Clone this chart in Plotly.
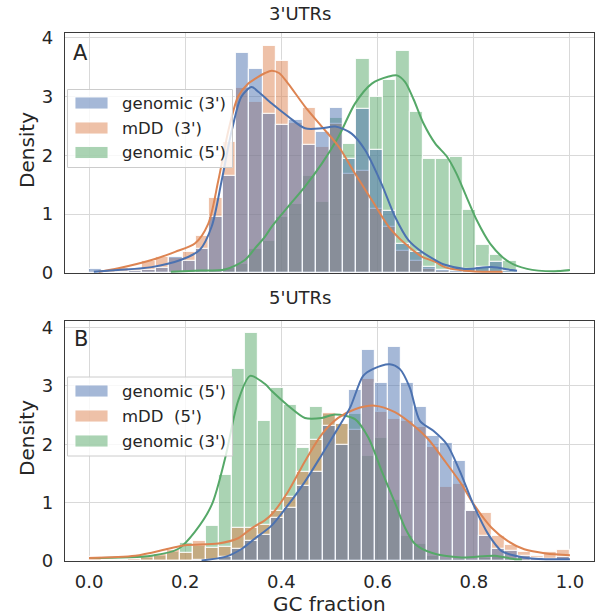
import numpy as np
import plotly.graph_objects as go
from plotly.subplots import make_subplots

# ---------------- data ----------------
# Panel A (3'UTRs): 36 equal bins over [0, 1]
A_NBINS = 36
A_GENOMIC3 = [0.07, 0.0, 0.02, 0.03, 0.05, 0.08, 0.27, 0.21, 0.41, 0.95, 1.65, 3.74,
              3.46, 2.71, 2.51, 2.60, 2.17, 2.40, 2.80, 1.93, 2.78, 2.09, 1.05, 0.50,
              0.35, 0.10, 0.05, 0.04, 0.06, 0.10, 0.18, 0.04, 0.02, 0.0, 0.0, 0.0]
A_MDD3 = [0.02, 0.03, 0.085, 0.06, 0.21, 0.27, 0.25, 0.36, 0.63, 1.27, 2.23, 3.14,
          2.90, 3.86, 3.60, 2.55, 2.80, 2.15, 2.53, 1.69, 1.73, 1.08, 0.78, 0.38,
          0.20, 0.06, 0.03, 0.02, 0.02, 0.01, 0.01, 0.0, 0.0, 0.0, 0.0, 0.0]
A_GENOMIC5 = [0.0, 0.0, 0.0, 0.0, 0.0, 0.0, 0.01, 0.02, 0.02, 0.04, 0.08, 0.16,
              0.40, 0.55, 0.95, 1.18, 1.65, 1.20, 2.63, 2.20, 3.63, 3.00, 3.28, 3.78,
              2.74, 1.93, 1.93, 1.97, 1.07, 0.48, 0.30, 0.21, 0.0, 0.0, 0.0, 0.05]

# Panel B (5'UTRs): 37 equal bins over [0, 1]
B_NBINS = 37
B_GENOMIC5 = [0.0, 0.0, 0.0, 0.0, 0.0, 0.0, 0.0, 0.0, 0.01, 0.02, 0.07, 0.20,
              0.34, 0.45, 0.74, 0.90, 1.28, 1.52, 2.31, 1.98, 2.92, 3.61, 3.05, 3.67,
              3.05, 2.63, 2.14, 2.02, 1.72, 0.85, 0.43, 0.20, 0.17, 0.09, 0.05, 0.03, 0.07]
B_MDD5 = [0.075, 0.02, 0.02, 0.04, 0.08, 0.12, 0.18, 0.14, 0.34, 0.22, 0.24, 0.57,
          0.57, 0.61, 0.85, 1.10, 1.53, 2.08, 2.54, 2.35, 2.25, 3.11, 2.56, 2.43,
          2.40, 2.29, 1.96, 1.27, 1.32, 0.85, 0.82, 0.42, 0.28, 0.15, 0.09, 0.15, 0.18]
B_GENOMIC3 = [0.02, 0.0, 0.02, 0.02, 0.05, 0.08, 0.15, 0.30, 0.25, 0.60, 1.48, 3.29,
              3.90, 2.40, 2.96, 2.67, 1.94, 2.63, 2.51, 2.35, 2.52, 1.79, 2.10, 1.05,
              0.43, 0.29, 0.09, 0.04, 0.03, 0.02, 0.05, 0.08, 0.03, 0.02, 0.0, 0.0, 0.0]

# KDE curves
A_KDE_G3_X = [0.01, 0.06, 0.13, 0.19, 0.23, 0.255, 0.276, 0.297, 0.317, 0.338, 0.352, 0.38,
              0.414, 0.449, 0.484, 0.512, 0.546, 0.574, 0.608, 0.636, 0.664, 0.692, 0.72,
              0.74, 0.782, 0.837, 0.879, 0.89]
A_KDE_G3_Y = [0.02, 0.05, 0.10, 0.22, 0.39, 0.79, 1.58, 2.43, 3.00, 3.16, 3.08, 2.88,
              2.66, 2.46, 2.46, 2.49, 2.37, 2.09, 1.52, 0.96, 0.56, 0.36, 0.22,
              0.14, 0.07, 0.10, 0.05, 0.04]
A_KDE_M3_X = [0.02, 0.061, 0.13, 0.179, 0.22, 0.248, 0.269, 0.29, 0.31, 0.331, 0.345, 0.366,
              0.38, 0.395, 0.414, 0.449, 0.484, 0.519, 0.553, 0.588, 0.623, 0.657, 0.692,
              0.72, 0.74, 0.782, 0.837, 0.86]
A_KDE_M3_Y = [0.02, 0.08, 0.22, 0.36, 0.50, 0.84, 1.58, 2.43, 3.00, 3.22, 3.30, 3.40,
              3.44, 3.40, 3.22, 2.83, 2.49, 2.15, 1.69, 1.24, 0.79, 0.50, 0.28,
              0.19, 0.10, 0.04, 0.02, 0.02]
A_KDE_G5_X = [0.17, 0.22, 0.283, 0.324, 0.345, 0.366, 0.38, 0.414, 0.449, 0.484, 0.519,
              0.553, 0.588, 0.623, 0.64, 0.657, 0.675, 0.695, 0.72, 0.744, 0.764, 0.785,
              0.806, 0.834, 0.869, 0.911, 0.966, 1.0]
A_KDE_G5_Y = [0.02, 0.04, 0.06, 0.22, 0.42, 0.62, 0.79, 1.13, 1.47, 1.86, 2.32,
              2.88, 3.22, 3.34, 3.36, 3.25, 2.95, 2.55, 2.20, 1.98, 1.69, 1.29,
              0.90, 0.50, 0.21, 0.07, 0.03, 0.05]

B_KDE_G5_X = [0.234, 0.283, 0.318, 0.345, 0.38, 0.414, 0.449, 0.484, 0.518, 0.543, 0.57,
              0.591, 0.625, 0.646, 0.667, 0.688, 0.716, 0.744, 0.771, 0.799, 0.83, 0.858,
              0.903, 0.95, 1.0]
B_KDE_G5_Y = [0.01, 0.07, 0.21, 0.385, 0.61, 0.96, 1.36, 1.82, 2.28, 2.63, 3.17,
              3.29, 3.37, 3.29, 2.97, 2.40, 2.23, 2.00, 1.54, 0.97, 0.46, 0.17,
              0.06, 0.03, 0.03]
B_KDE_M5_X = [0.0, 0.096, 0.165, 0.2, 0.269, 0.31, 0.338, 0.366, 0.38, 0.414, 0.449, 0.484,
              0.518, 0.553, 0.594, 0.636, 0.678, 0.705, 0.74, 0.775, 0.80, 0.837, 0.871,
              0.905, 0.95, 1.0]
B_KDE_M5_Y = [0.05, 0.09, 0.21, 0.27, 0.30, 0.39, 0.56, 0.70, 0.80, 1.19, 1.71, 2.17,
              2.45, 2.60, 2.66, 2.55, 2.30, 2.09, 1.71, 1.31, 0.97, 0.57, 0.34,
              0.20, 0.13, 0.10]
B_KDE_G3_X = [0.0, 0.13, 0.186, 0.22, 0.255, 0.283, 0.31, 0.335, 0.366, 0.38, 0.414, 0.449,
              0.484, 0.512, 0.553, 0.581, 0.609, 0.636, 0.657, 0.678, 0.712, 0.775, 0.844,
              0.885, 0.9]
B_KDE_G3_Y = [0.05, 0.09, 0.21, 0.50, 0.96, 1.76, 2.74, 3.17, 3.03, 2.91, 2.66, 2.45,
              2.45, 2.51, 2.43, 2.11, 1.53, 1.00, 0.57, 0.29, 0.14, 0.06, 0.09,
              0.03, 0.03]

X_TICKS = [0.0, 0.2, 0.4, 0.6, 0.8, 1.0]
X_TICK_TEXT = ["0.0", "0.2", "0.4", "0.6", "0.8", "1.0"]
Y_TICKS = [0, 1, 2, 3, 4]

TITLE_A = "3'UTRs"
TITLE_B = "5'UTRs"
LEGEND_A = ["genomic (3')", "mDD  (3')", "genomic (5')"]
LEGEND_B = ["genomic (5')", "mDD  (5')", "genomic (3')"]

# ---------------- styling ----------------
BLUE = (76, 114, 176)
ORANGE = (221, 132, 82)
GREEN = (85, 168, 104)
FONT = "DejaVu Sans"
TXT = "#262626"
W, H = 598, 615
ML, MR, MT, MB = 65, 4, 33, 54


def rgba(c, a):
    return "rgba(%d,%d,%d,%.2f)" % (c[0], c[1], c[2], a)


def rgb(c):
    return "rgb(%d,%d,%d)" % c


def px(xp):
    return (xp - ML) / (W - ML - MR)


def py(yp):
    return (H - MB - yp) / (H - MT - MB)


fig = make_subplots(rows=2, cols=1, shared_xaxes=True)


def add_hist(vals, nbins, color, row):
    n = nbins
    edges = np.linspace(0, 1, n + 1)
    centers = (edges[:-1] + edges[1:]) / 2
    fig.add_trace(go.Bar(x=centers, y=vals, width=1.0 / n,
                         marker=dict(color=rgba(color, 0.5),
                                     line=dict(color="rgba(255,255,255,0.85)", width=1.2)),
                         showlegend=False, hoverinfo="skip"), row=row, col=1)


def add_kde(xs, ys, color, row):
    fig.add_trace(go.Scatter(x=xs, y=ys, mode="lines",
                             line=dict(color=rgb(color), width=2, shape="spline", smoothing=0.8),
                             showlegend=False, hoverinfo="skip"), row=row, col=1)


# first hue level drawn last (on top), as seaborn layers them
add_hist(A_GENOMIC5, A_NBINS, GREEN, 1)
add_hist(A_MDD3, A_NBINS, ORANGE, 1)
add_hist(A_GENOMIC3, A_NBINS, BLUE, 1)
add_kde(A_KDE_G5_X, A_KDE_G5_Y, GREEN, 1)
add_kde(A_KDE_M3_X, A_KDE_M3_Y, ORANGE, 1)
add_kde(A_KDE_G3_X, A_KDE_G3_Y, BLUE, 1)

add_hist(B_GENOMIC3, B_NBINS, GREEN, 2)
add_hist(B_MDD5, B_NBINS, ORANGE, 2)
add_hist(B_GENOMIC5, B_NBINS, BLUE, 2)
add_kde(B_KDE_G3_X, B_KDE_G3_Y, GREEN, 2)
add_kde(B_KDE_M5_X, B_KDE_M5_Y, ORANGE, 2)
add_kde(B_KDE_G5_X, B_KDE_G5_Y, BLUE, 2)

axis_common = dict(showgrid=True, gridcolor="#d9d9d9", gridwidth=1.3, zeroline=False,
                   showline=True, mirror=True, linecolor="#3a3a3a", linewidth=1.4,
                   ticks="", automargin=False,
                   tickfont=dict(family=FONT, size=18, color=TXT))

fig.update_xaxes(range=[-0.05, 1.05], tickvals=X_TICKS, ticktext=X_TICK_TEXT, **axis_common)
fig.update_xaxes(showticklabels=False, row=1, col=1)
fig.update_xaxes(ticklabelstandoff=4, row=2, col=1)
fig.update_yaxes(tickvals=Y_TICKS, ticklabelstandoff=7, **axis_common)
fig.update_yaxes(range=[0, 4.08], domain=[py(273), py(33)], row=1, col=1)
fig.update_yaxes(range=[0, 4.11], domain=[py(561), py(321)], row=2, col=1)

annotations = []
shapes = []


def text(x, y, s, size, anchor="center", angle=0):
    annotations.append(dict(x=px(x), y=py(y), xref="paper", yref="paper", text=s,
                            showarrow=False, xanchor=anchor, yanchor="middle",
                            textangle=angle,
                            font=dict(family=FONT, size=size, color=TXT)))


text(300, 13, TITLE_A, 18)
text(300, 297, TITLE_B, 18)
text(80.5, 52.5, "A", 21)
text(80.5, 338.5, "B", 21)
text(27, 150, "Density", 20, angle=-90)
text(27, 438, "Density", 20, angle=-90)
text(329, 604, "GC fraction", 20)


def legend(top, bottom, centers, labels):
    shapes.append(dict(type="rect", xref="paper", yref="paper",
                       x0=px(67.5), x1=px(232.5), y0=py(bottom), y1=py(top),
                       fillcolor="rgba(255,255,255,0.8)",
                       line=dict(color="#cccccc", width=1)))
    for cy, lab, col in zip(centers, labels, [BLUE, ORANGE, GREEN]):
        shapes.append(dict(type="rect", xref="paper", yref="paper",
                           x0=px(75), x1=px(108), y0=py(cy + 6), y1=py(cy - 6),
                           fillcolor=rgba(col, 0.5),
                           line=dict(color="rgba(255,255,255,0.9)", width=1)))
        text(120, cy, lab, 16.5, anchor="left")


legend(89.5, 167.5, [103, 128, 152.5], LEGEND_A)
legend(377, 456, [391, 416, 441], LEGEND_B)

fig.update_layout(width=W, height=H, margin=dict(l=ML, r=MR, t=MT, b=MB, autoexpand=False),
                  barmode="overlay", bargap=0,
                  paper_bgcolor="white", plot_bgcolor="white",
                  annotations=annotations, shapes=shapes, showlegend=False,
                  font=dict(family=FONT, color=TXT))

fig.write_html("out.html", config={"displayModeBar": False},
               post_script="document.body.style.margin='0px';")
